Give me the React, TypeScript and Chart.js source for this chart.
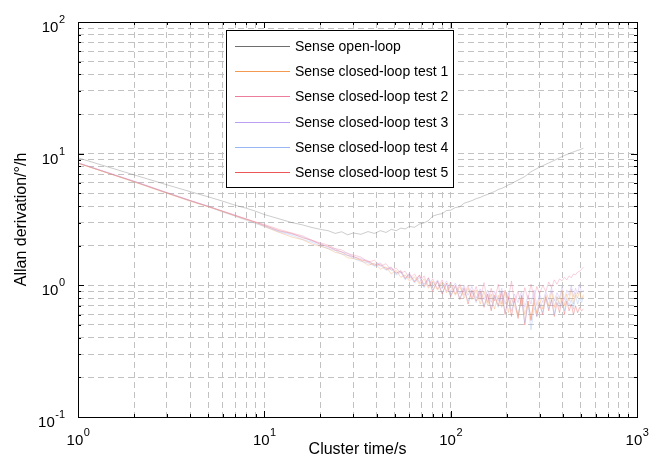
import React, { useEffect, useRef } from "react";
import { Chart, registerables } from "chart.js";

Chart.register(...registerables);

// Cluster times (s)
const taus = [
  1, 2, 3, 4, 5, 6, 7, 8, 9, 10,
  12, 14, 16, 18, 20, 22, 24, 26, 28, 30,
  33, 36, 39, 42, 45, 48, 51, 54, 57, 60,
  64, 68, 72, 76, 80,
  85, 90, 95, 100,
  106, 112, 118, 124, 130,
  137, 144, 151, 158, 165, 172,
  180, 188, 196, 204, 212, 220,
  230, 240, 250, 260, 270, 280, 290, 300,
  312, 324, 336, 348, 360, 372, 384, 396, 408, 420, 432, 444, 456, 468, 480, 492, 504, 516,
];

const openLoop = [
  9.3, 6.9, 5.8, 5.15, 4.7, 4.35, 4.05, 3.85, 3.65, 3.45,
  3.2, 3.0, 2.88, 2.75, 2.66, 2.6, 2.48, 2.55, 2.42, 2.5,
  2.44, 2.56, 2.48, 2.6, 2.52, 2.66, 2.6, 2.72, 2.68, 2.8,
  2.76, 2.92, 2.98, 3.1, 3.35,
  3.45, 3.5, 3.7, 3.72,
  3.9, 3.95, 4.2, 4.3, 4.4,
  4.55, 4.65, 4.8, 4.9, 5.05, 5.15,
  5.35, 5.45, 5.6, 5.8, 5.9, 6.1,
  6.3, 6.5, 6.7, 7.0, 7.3, 7.5, 7.7, 7.9,
  8.1, 8.3, 8.5, 8.7, 8.9, 9.1, 9.3, 9.5, 9.7, 9.85, 10.0, 10.2, 10.3, 10.45, 10.6, 10.7, 10.85, 11.0,
];

const closedTest1 = [
  8.45, 6.1, 5.0, 4.35, 3.95, 3.62, 3.36, 3.15, 2.98, 2.8,
  2.52, 2.33, 2.22, 2.06, 1.98, 1.9, 1.78, 1.74, 1.62, 1.6,
  1.55, 1.42, 1.47, 1.33, 1.38, 1.22, 1.3, 1.15, 1.2, 1.08,
  1.16, 1.02, 1.12, 0.95, 1.08,
  0.92, 1.05, 0.88, 1.0,
  0.84, 0.98, 0.8, 0.95, 0.78,
  0.92, 0.72, 0.9, 0.7, 0.86, 0.66,
  0.84, 0.68, 0.9, 0.62, 0.8, 0.7,
  0.58, 0.82, 0.6, 0.76, 0.55, 0.74, 0.62, 0.8,
  0.66, 0.85, 0.7, 0.9, 0.68, 0.82, 0.72, 0.92, 0.7, 0.86, 0.76, 0.94, 0.72, 0.88, 0.8, 0.9, 0.78, 0.85,
];

const closedTest2 = [
  8.5, 6.15, 5.05, 4.4, 3.98, 3.65, 3.4, 3.2, 3.03, 2.9,
  2.66, 2.5, 2.38, 2.2, 2.1, 2.02, 1.9, 1.86, 1.74, 1.7,
  1.64, 1.5, 1.55, 1.4, 1.46, 1.3, 1.35, 1.24, 1.28, 1.12,
  1.22, 1.05, 1.18, 0.98, 1.12,
  0.94, 1.1, 0.9, 1.06,
  0.86, 1.02, 0.84, 1.0, 0.8,
  0.98, 0.78, 1.05, 0.74, 0.95, 0.76,
  1.02, 0.72, 0.92, 0.78, 1.08, 0.74,
  0.9, 0.7, 0.96, 0.78, 1.02, 0.8, 0.98, 0.86,
  1.0, 0.9, 1.06, 0.96, 1.1, 1.02, 1.12, 1.08, 1.15, 1.1, 1.18, 1.14, 1.22, 1.2, 1.26, 1.28, 1.32, 1.38,
];

const closedTest3 = [
  8.55, 6.2, 5.08, 4.42, 4.0, 3.66, 3.4, 3.18, 3.0, 2.84,
  2.58, 2.45, 2.34, 2.16, 2.08, 1.94, 1.9, 1.78, 1.76, 1.64,
  1.6, 1.54, 1.44, 1.48, 1.34, 1.38, 1.22, 1.3, 1.14, 1.24,
  1.08, 1.18, 1.02, 1.14, 0.98,
  1.1, 0.94, 1.08, 0.9,
  1.04, 0.86, 1.0, 0.84, 0.98,
  0.8, 0.94, 0.78, 0.92, 0.74, 0.9,
  0.76, 0.95, 0.72, 0.88, 0.7, 0.86,
  0.74, 0.9, 0.68, 0.84, 0.72, 0.92, 0.7, 0.86,
  0.74, 0.9, 0.78, 0.96, 0.76, 0.88, 0.8, 0.98, 0.78, 0.92, 0.84, 1.0, 0.82, 0.95, 0.86, 1.02, 0.88, 0.92,
];

const closedTest4 = [
  8.5, 6.12, 5.02, 4.38, 3.96, 3.6, 3.34, 3.12, 2.94, 2.8,
  2.55, 2.4, 2.24, 2.12, 2.0, 1.9, 1.84, 1.72, 1.7, 1.6,
  1.52, 1.48, 1.4, 1.42, 1.3, 1.34, 1.2, 1.26, 1.1, 1.2,
  1.04, 1.15, 0.96, 1.1, 0.92,
  1.06, 0.88, 1.02, 0.84,
  0.98, 0.8, 0.94, 0.76, 0.9,
  0.74, 0.88, 0.7, 0.84, 0.66, 0.82,
  0.68, 0.86, 0.62, 0.8, 0.64, 0.76,
  0.6, 0.78, 0.52, 0.72, 0.46, 0.68, 0.58, 0.74,
  0.62, 0.8, 0.66, 0.78, 0.6, 0.82, 0.68, 0.76, 0.64, 0.8, 0.7, 0.78, 0.66, 0.84, 0.72, 0.8, 0.74, 0.82,
];

const closedTest5 = [
  8.48, 6.14, 5.04, 4.4, 3.97, 3.64, 3.38, 3.18, 3.01, 2.86,
  2.6, 2.48, 2.3, 2.2, 2.04, 1.98, 1.85, 1.8, 1.68, 1.66,
  1.56, 1.52, 1.42, 1.45, 1.32, 1.36, 1.24, 1.28, 1.12, 1.22,
  1.06, 1.2, 0.98, 1.14, 0.9,
  1.08, 0.86, 1.04, 0.82,
  1.0, 0.78, 0.96, 0.72, 0.92,
  0.76, 0.9, 0.68, 0.86, 0.64, 0.84,
  0.7, 0.9, 0.6, 0.82, 0.58, 0.8,
  0.56, 0.84, 0.5, 0.76, 0.54, 0.8, 0.58, 0.72,
  0.6, 0.82, 0.64, 0.78, 0.58, 0.74, 0.62, 0.8, 0.6, 0.76, 0.64, 0.72, 0.6, 0.7, 0.62, 0.68, 0.64, 0.66,
];

const seriesLabels = [
  "Sense open-loop",
  "Sense closed-loop test 1",
  "Sense closed-loop test 2",
  "Sense closed-loop test 3",
  "Sense closed-loop test 4",
  "Sense closed-loop test 5",
];
const seriesValues = [openLoop, closedTest1, closedTest2, closedTest3, closedTest4, closedTest5];
// legend swatch colours and (fainter) plotted line colours
const seriesColors = ["#6e6e6e", "#f39a50", "#ee7c9c", "#b9a0f0", "#98b6f2", "#ec5656"];
const plotColors = [
  "rgba(110,110,110,0.5)",
  "rgba(243,154,80,0.5)",
  "rgba(238,124,156,0.5)",
  "rgba(185,160,240,0.5)",
  "rgba(152,182,242,0.5)",
  "rgba(236,86,86,0.55)",
];

const xMajorTicks = [1, 10, 100, 1000];
const xTickExponents = ["0", "1", "2", "3"];
const yMajorTicks = [0.1, 1, 10, 100];
const yTickExponents = ["-1", "0", "1", "2"];

const xTitle = "Cluster time/s";
const yTitle = "Allan derivation/°/h";

const FONT = "'Liberation Sans', Arial, Helvetica, sans-serif";

function decadeTicks(majors: number[]) {
  const vals: number[] = [];
  for (let i = 0; i < majors.length - 1; i++) {
    for (let m = 1; m <= 9; m++) vals.push(majors[i] * m);
  }
  vals.push(majors[majors.length - 1]);
  return vals;
}

function isMajor(v: number, majors: number[]) {
  return majors.some((m) => Math.abs(v - m) / m < 1e-9);
}

const decorPlugin = {
  id: "matlabDecor",
  afterDraw(chart: any) {
    const { ctx, chartArea: a, scales } = chart;
    const xs = scales.x;
    const ys = scales.y;
    ctx.save();
    ctx.strokeStyle = "#000";
    ctx.lineWidth = 1;
    ctx.setLineDash([]);
    // tick marks inward on all sides
    ctx.beginPath();
    xs.ticks.forEach((t: any) => {
      const px = Math.round(xs.getPixelForValue(t.value)) + 0.5;
      const len = isMajor(t.value, xMajorTicks) ? 6 : 3;
      ctx.moveTo(px, a.bottom);
      ctx.lineTo(px, a.bottom - len);
      ctx.moveTo(px, a.top);
      ctx.lineTo(px, a.top + len);
    });
    ys.ticks.forEach((t: any) => {
      const py = Math.round(ys.getPixelForValue(t.value)) + 0.5;
      const len = isMajor(t.value, yMajorTicks) ? 6 : 3;
      ctx.moveTo(a.left, py);
      ctx.lineTo(a.left + len, py);
      ctx.moveTo(a.right, py);
      ctx.lineTo(a.right - len, py);
    });
    ctx.stroke();
    // axes box
    ctx.strokeRect(
      Math.round(a.left) + 0.5,
      Math.round(a.top) + 0.5,
      Math.round(a.right - a.left),
      Math.round(a.bottom - a.top)
    );

    // tick labels with superscripts
    ctx.fillStyle = "#000";
    const baseFont = `15px ${FONT}`;
    const expFont = `11px ${FONT}`;
    ctx.textBaseline = "alphabetic";
    ctx.textAlign = "left";
    xMajorTicks.forEach((v, i) => {
      const px = xs.getPixelForValue(v);
      ctx.font = baseFont;
      const w1 = ctx.measureText("10").width;
      ctx.font = expFont;
      const w2 = ctx.measureText(xTickExponents[i]).width;
      const start = px - (w1 + w2) / 2;
      ctx.font = baseFont;
      ctx.fillText("10", start, a.bottom + 28);
      ctx.font = expFont;
      ctx.fillText(xTickExponents[i], start + w1 + 0.5, a.bottom + 19);
    });
    yMajorTicks.forEach((v, i) => {
      const py = ys.getPixelForValue(v);
      ctx.font = expFont;
      const w2 = ctx.measureText(yTickExponents[i]).width;
      ctx.font = baseFont;
      const w1 = ctx.measureText("10").width;
      const end = a.left - 13;
      ctx.fillText("10", end - w2 - w1 - 0.5, py + 10);
      ctx.font = expFont;
      ctx.fillText(yTickExponents[i], end - w2, py + 1);
    });

    // legend box
    const lx = 226, ly = 30, lw = 227, lh = 157;
    ctx.fillStyle = "#fff";
    ctx.fillRect(lx, ly, lw, lh);
    ctx.strokeStyle = "#000";
    ctx.lineWidth = 1;
    ctx.strokeRect(lx + 0.5, ly + 0.5, lw, lh);
    ctx.font = `14px ${FONT}`;
    ctx.textBaseline = "middle";
    chart.data.datasets.forEach((ds: any, i: number) => {
      const ry = Math.round(ly + 16 + i * 25.2) + 0.5;
      ctx.strokeStyle = seriesColors[i];
      ctx.lineWidth = 1;
      ctx.beginPath();
      ctx.moveTo(lx + 9, ry);
      ctx.lineTo(lx + 64, ry);
      ctx.stroke();
      ctx.fillStyle = "#000";
      ctx.fillText(ds.label, lx + 69, ry + 1);
    });
    ctx.restore();
  },
};

export default function App() {
  const canvasRef = useRef<HTMLCanvasElement | null>(null);

  useEffect(() => {
    document.body.style.margin = "0";
    document.body.style.overflow = "hidden";
    const canvas = canvasRef.current;
    if (!canvas) return;
    const datasets = seriesLabels.map((label, i) => ({
      label,
      data: taus.map((t, j) => ({ x: t, y: seriesValues[i][j] })),
      borderColor: plotColors[i],
      backgroundColor: plotColors[i],
      borderWidth: 0.7,
      pointRadius: 0,
      fill: false,
      tension: 0,
    }));
    const xGrid = decadeTicks(xMajorTicks);
    const yGrid = decadeTicks(yMajorTicks);
    const chart = new Chart(canvas, {
      type: "line",
      data: { datasets },
      plugins: [decorPlugin],
      options: {
        animation: false,
        responsive: false,
        maintainAspectRatio: false,
        layout: { padding: { top: 22, right: 25, left: 0, bottom: 0 } },
        plugins: { legend: { display: false }, tooltip: { enabled: false } },
        scales: {
          x: {
            type: "logarithmic",
            min: 1,
            max: 1000,
            afterBuildTicks: (scale: any) => {
              scale.ticks = xGrid.map((v) => ({ value: v }));
            },
            afterFit: (scale: any) => {
              scale.height = 42;
            },
            ticks: { display: false },
            grid: { color: "#c2c2c2", lineWidth: 1, drawTicks: false, tickLength: 0 },
            border: { display: false, dash: [6, 4] },
            title: {
              display: true,
              text: xTitle,
              color: "#000",
              font: { family: FONT, size: 16 },
              padding: { top: 0, bottom: 0 },
            },
          },
          y: {
            type: "logarithmic",
            min: 0.1,
            max: 100,
            afterBuildTicks: (scale: any) => {
              scale.ticks = yGrid.map((v) => ({ value: v }));
            },
            afterFit: (scale: any) => {
              scale.width = 78;
            },
            ticks: { display: false },
            grid: { color: "#c2c2c2", lineWidth: 1, drawTicks: false, tickLength: 0 },
            border: { display: false, dash: [6, 4] },
            title: {
              display: true,
              text: yTitle,
              color: "#000",
              font: { family: FONT, size: 16 },
              padding: { top: 12, bottom: 0 },
            },
          },
        },
      },
    } as any);
    return () => chart.destroy();
  }, []);

  return (
    <div style={{ width: 662, height: 459, background: "#fff" }}>
      <canvas ref={canvasRef} width={662} height={459} style={{ display: "block" }} />
    </div>
  );
}
